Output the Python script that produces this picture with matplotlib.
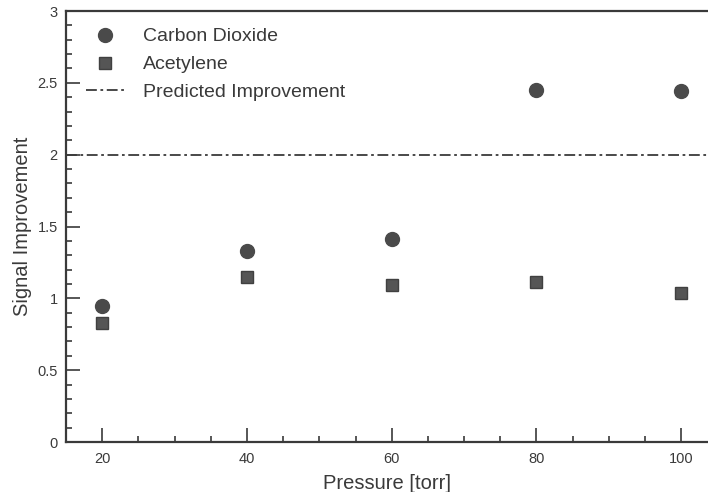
import numpy as np
import matplotlib.pyplot as plt
from matplotlib.ticker import MultipleLocator

plt.rcParams['font.family'] = ['Liberation Sans', 'DejaVu Sans']

# Data
pressure = [20, 40, 60, 80, 100]
co2 = [0.95, 1.33, 1.41, 2.45, 2.44]
acetylene = [0.83, 1.15, 1.09, 1.115, 1.04]
predicted = 2.0

ink = '#3a3a3a'

fig = plt.figure(figsize=(7.08, 4.92), dpi=100)
ax = fig.add_axes([0.0932, 0.1016, 0.9068, 0.876])

ax.plot(pressure, co2, 'o', color='#4a4a4a', markersize=10, label='Carbon Dioxide')
ax.plot(pressure, acetylene, 's', color='#555555', markersize=8.5,
        markeredgecolor='#404040', label='Acetylene')
ax.axhline(predicted, color=ink, linewidth=1.3, linestyle=(0, (6, 2, 1.5, 2)),
           label='Predicted Improvement')

ax.set_xlim(15, 103.7)
ax.set_ylim(0, 3)
ax.xaxis.set_major_locator(MultipleLocator(20))
ax.xaxis.set_minor_locator(MultipleLocator(5))
ax.yaxis.set_minor_locator(MultipleLocator(0.1))
ax.set_yticks([0, 0.5, 1, 1.5, 2, 2.5, 3])
ax.set_yticklabels(['0', '0.5', '1', '1.5', '2', '2.5', '3'])

ax.tick_params(which='both', direction='in', colors=ink, labelsize=10.5, width=1.2)
ax.tick_params(which='major', length=10)
ax.tick_params(which='minor', length=4)
ax.tick_params(axis='x', pad=7)
ax.tick_params(axis='y', pad=6)

for side in ['left', 'bottom', 'top']:
    ax.spines[side].set_color(ink)
    ax.spines[side].set_linewidth(1.6)
ax.spines['right'].set_visible(False)

ax.set_xlabel('Pressure [torr]', fontsize=14.5, color=ink, labelpad=6)
ax.set_ylabel('Signal Improvement', fontsize=14.5, color=ink, labelpad=3.5)

leg = ax.legend(loc='upper left', frameon=False, fontsize=14, handlelength=2.0,
                handletextpad=0.93, borderaxespad=0, borderpad=0, labelspacing=0.53,
                bbox_to_anchor=(0.031, 0.961))
for t in leg.get_texts():
    t.set_color(ink)

fig.savefig('out.png', dpi=100)
